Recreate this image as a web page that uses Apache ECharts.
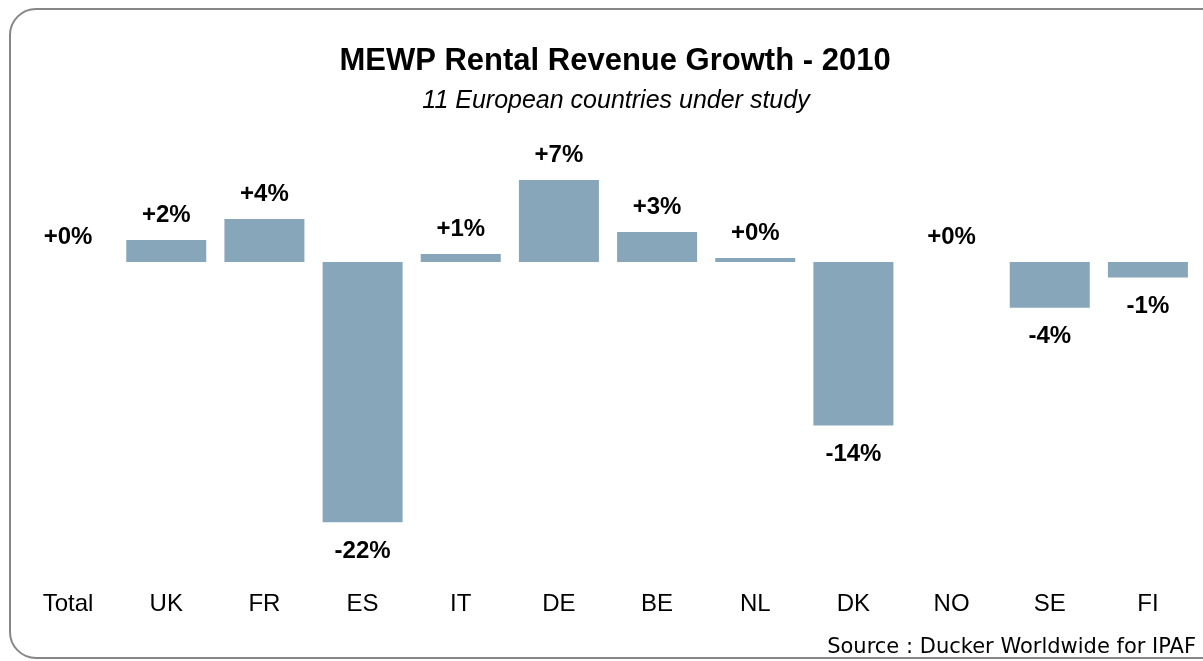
<!DOCTYPE html>
<html>
<head>
<meta charset="utf-8">
<style>
html,body{margin:0;padding:0;background:#fff;}
#chart{width:1203px;height:661px;}
</style>
<script src="https://cdn.jsdelivr.net/npm/echarts@6/dist/echarts.min.js"></script>
</head>
<body>
<div id="chart"></div>
<script>
const categories = ['Total','UK','FR','ES','IT','DE','BE','NL','DK','NO','SE','FI'];
const growth = [0, 1.87, 3.65, -22.05, 0.68, 6.96, 2.55, 0.35, -13.84, 0, -3.86, -1.3];
const valueLabels = ['+0%','+2%','+4%','-22%','+1%','+7%','+3%','+0%','-14%','+0%','-4%','-1%'];
const titleText = 'MEWP Rental Revenue Growth - 2010';
const subtitleText = '11 European countries under study';
const sourceText = 'Source : Ducker Worldwide for IPAF';

const barColor = '#88a6b9';
const chart = echarts.init(document.getElementById('chart'), null, {renderer:'canvas'});

const seriesData = growth.map((v, i) => ({
  value: v,
  label: {
    position: v < 0 ? 'bottom' : 'top',
    distance: v < 0 ? 17 : 13
  }
}));

chart.setOption({
  animation: false,
  backgroundColor: '#ffffff',
  title: [
    {
      text: titleText,
      left: 615, top: 46, textAlign: 'center', padding: 0,
      textStyle: {fontFamily: 'Liberation Sans', fontWeight: 'bold', fontSize: 31, color: '#000'}
    },
    {
      text: subtitleText,
      left: 616, top: 89, textAlign: 'center', padding: 0,
      textStyle: {fontFamily: 'Liberation Sans', fontStyle: 'italic', fontWeight: 'normal', fontSize: 25, color: '#000'}
    }
  ],
  graphic: [
    {
      type: 'rect', silent: true, z: 100,
      shape: {x: 10, y: 9, width: 1240, height: 649, r: 26},
      style: {fill: 'none', stroke: '#878787', lineWidth: 2}
    },
    {
      type: 'text', silent: true,
      x: 1196, y: 648,
      style: {text: sourceText, textAlign: 'right', textVerticalAlign: 'middle',
              font: 'normal 21px "DejaVu Sans"', fill: '#000'}
    }
  ],
  grid: {left: 19, right: 6, top: 144, bottom: 92, containLabel: false},
  xAxis: {
    type: 'category',
    data: categories,
    position: 'bottom',
    axisLine: {show: false, onZero: false},
    axisTick: {show: false},
    axisLabel: {margin: 23, fontFamily: 'Liberation Sans', fontSize: 24, color: '#000'},
    splitLine: {show: false}
  },
  yAxis: {
    type: 'value',
    min: -26, max: 10,
    show: false,
    splitLine: {show: false}
  },
  series: [{
    type: 'bar',
    data: seriesData,
    barCategoryGap: '18.5%',
    itemStyle: {color: barColor},
    label: {
      show: true,
      formatter: p => valueLabels[p.dataIndex],
      fontFamily: 'Liberation Sans', fontWeight: 'bold', fontSize: 24, color: '#000'
    }
  }]
});
</script>
</body>
</html>
